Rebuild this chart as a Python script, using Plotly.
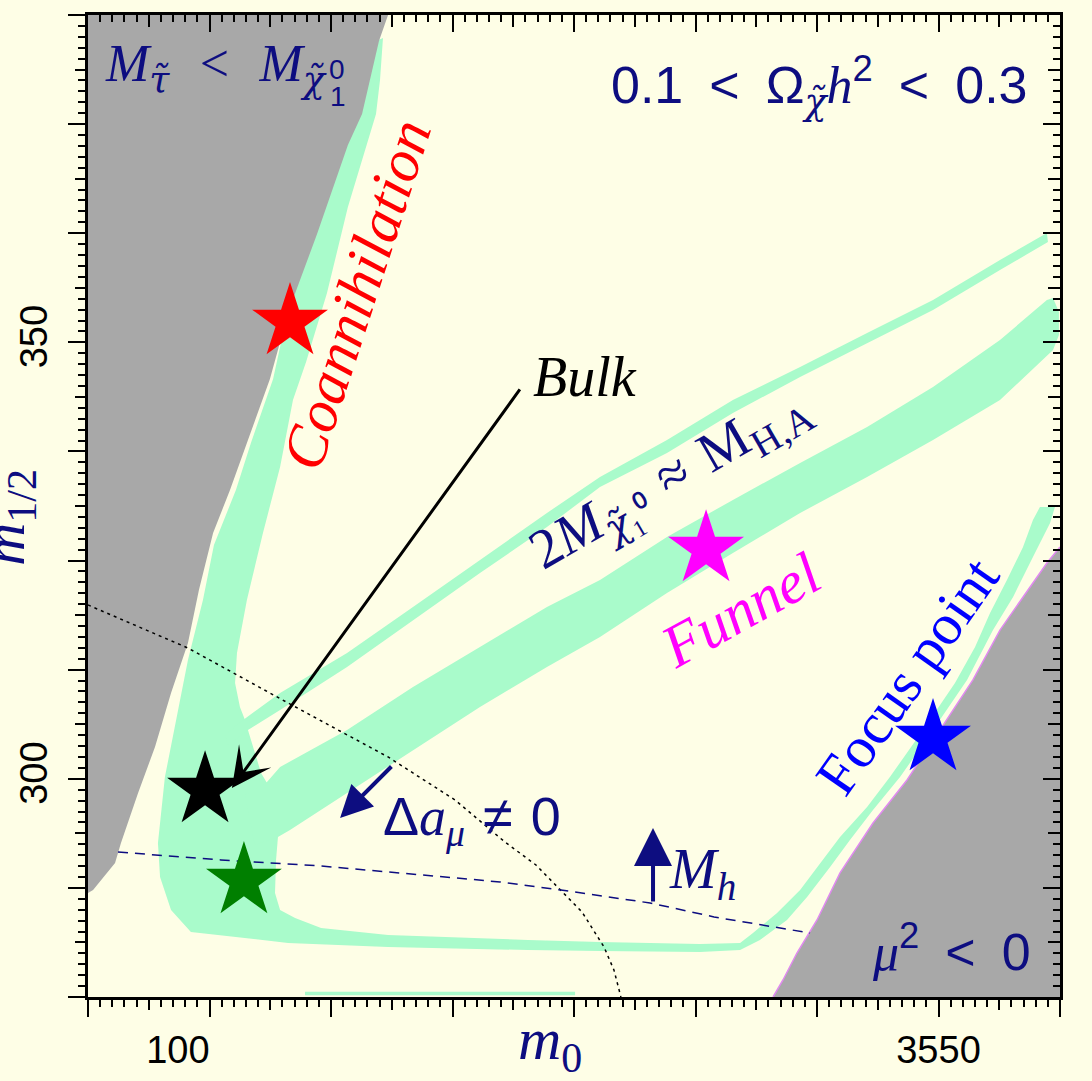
import plotly.graph_objects as go

CREAM = "#FEFEE6"
MINT = "#A9FBCB"
GRAY = "#A8A8A8"
NAVY = "#0D0D80"
SERIF = "Liberation Serif"
SANS = "Liberation Sans"
NB = "\u00a0"
SP = "\u2004"
EN = "\u2002"

# ---------------- axis ticks ----------------
XMAJ = [-475, 100, 675, 1250, 1825, 2400, 2975, 3550, 4125]
XLAB = ["", "100" + NB * 6, "", "", "", "", "", "3550", ""]
XMED = [-187.5, 387.5, 962.5, 1537.5, 2112.5, 2687.5, 3262.5, 3837.5]
YMAJ = [275, 287.5, 300, 312.5, 325, 337.5, 350, 362.5, 375, 387.5]
YLAB = ["", "", "300", "", "", "", "350", "", "", ""]
YMED = [281.25, 293.75, 306.25, 318.75, 331.25, 343.75, 356.25, 368.75, 381.25]
XR = [-475, 4125]
YR = [275, 387.5]

# ---------------- regions ----------------
# main relic-density band: coannihilation + bulk + low strip + focus point
band_x = [921, 907, 888, 822, 755, 656, 557, 495, 434, 353, 277, 230, 221, 244, 268, 282, 315, 344, 372,
          424, 415, 410, 434, 505, 628, 945, 1607, 1948, 2421, 2611, 2672, 2786, 2895, 2989, 3084, 3212,
          3320, 3477, 3628, 3723, 3794, 3874, 3950, 3997, 4030, 4101, 4078, 3997, 3903, 3808, 3685, 3524,
          3368, 3240, 3131, 3037, 2928, 2833, 2705, 2611, 2421, 1948, 1607, 945, 472, 12, -82, -134, -144,
          -111, -63, -2, 69, 121, 225, 296, 401, 472, 599, 746, 888]
band_y = [384.87, 380.05, 376.16, 370.89, 365.50, 355.65, 347.75, 343.39, 335.72, 328.16, 320.48, 314.41,
          310.97, 308.22, 306.73, 305.59, 302.95, 300.66, 299.52, 293.33, 290.70, 286.91, 284.97, 284.05,
          282.91, 282.10, 281.53, 281.30, 281.07, 281.19, 282.33, 284.62, 287.26, 290.35, 293.33, 296.77,
          300.20, 305.59, 310.97, 315.10, 318.99, 322.77, 326.55, 329.65, 331.14, 331.14, 329.30, 325.41,
          320.83, 317.04, 311.32, 305.59, 300.20, 296.42, 292.99, 289.89, 286.46, 283.82, 281.53, 280.38,
          280.16, 280.27, 280.38, 280.73, 281.19, 282.45, 284.97, 288.75, 292.64, 300.20, 305.93, 313.61,
          320.48, 326.78, 333.08, 338.47, 345.80, 353.70, 362.41, 372.61, 384.52]

# thin funnel branch (2M ~ M_HA)
thin_x = [173, 259, 434, 751, 1063, 1380, 1697, 1948, 2265, 2577, 2895, 3212, 3524, 3841, 4063,
          4068, 3841, 3524, 3212, 2895, 2577, 2265, 1948, 1697, 1380, 1063, 751, 434, 282, 188]
thin_y = [305.02, 306.73, 309.83, 314.41, 319.68, 325.06, 330.45, 334.57, 338.81, 343.39, 347.17, 351.07,
          354.85, 359.43, 362.53, 361.49, 358.29, 353.70, 349.92, 346.03, 341.90, 337.32, 333.43, 328.84,
          323.57, 318.19, 312.81, 307.88, 305.59, 303.87]

# thick funnel branch
thick_x = [268, 372, 434, 751, 1063, 1380, 1697, 1948, 2265, 2577, 2895, 3212, 3524, 3841, 4063, 4092,
           4120, 4120, 4092, 3841, 3524, 3212, 2895, 2577, 2265, 1948, 1697, 1380, 1063, 751, 481, 424, 315]
thick_y = [298.14, 299.63, 301.35, 305.59, 310.51, 315.10, 319.68, 322.77, 327.70, 331.94, 336.18, 340.30,
           344.88, 350.27, 354.85, 355.08, 353.48, 350.84, 349.12, 343.39, 338.81, 334.57, 330.45, 325.87,
           321.28, 316.24, 312.81, 308.22, 303.30, 298.37, 294.13, 293.33, 292.41]

# excluded: stau LSP (top left)
stau_x = [-475, 945, 902, 822, 755, 609, 476, 386, 277, 197, 117, 50, -2, -82, -158, -238, -319, -347, -451, -475]
stau_y = [387.5, 387.5, 384.52, 376.16, 372.61, 362.41, 353.70, 345.80, 338.47, 333.08, 328.16, 321.63,
          315.56, 309.83, 303.64, 298.37, 292.64, 290.35, 287.26, 286.92]

# excluded: mu^2 < 0 (bottom right)
mu_x = [2767, 2814, 2880, 2975, 3084, 3240, 3401, 3557, 3713, 3841, 3950, 4063, 4125, 4125]
mu_y = [275.0, 276.95, 280.04, 283.82, 289.21, 294.93, 299.86, 305.59, 311.32, 317.04, 320.83, 324.72,
        326.55, 275.0]

# thin strip near the lower axis
strip_x = [552, 1830, 1830, 552]
strip_y = [275.6, 275.6, 275.2, 275.2]

# g-2 boundary (dotted) and Higgs-mass boundary (dashed)
amu_x = [-475, -2, 472, 945, 1262, 1498, 1645, 1763, 1863, 1967, 2014, 2047]
amu_y = [319.91, 314.98, 308.68, 302.50, 297.57, 292.76, 290.12, 287.26, 284.74, 280.73, 278.09, 275.0]
mh_x = [-333, 154, 628, 1101, 1475, 1763, 2185, 2488, 2942]
mh_y = [291.61, 290.70, 290.01, 288.98, 288.18, 287.26, 285.77, 284.17, 282.33]

# benchmark stars
star_x = [481, 79, 263, 2450, 3524]
star_y = [352.33, 298.71, 288.29, 326.32, 304.67]
star_c = ["#FF0000", "#000000", "#007F00", "#FF00FF", "#0000FF"]

# arrows: (tip_x, tip_y, tail_x, tail_y)
bulk_arrow = [206, 298.94, 1574, 344.77]
amu_arrow = [718, 295.51, 968, 301.58]
mh_arrow = [2199, 294.36, 2199, 285.77]

fig = go.Figure()


def poly(xs, ys, color):
    fig.add_trace(go.Scatter(x=xs, y=ys, mode="lines", fill="toself", fillcolor=color,
                             line=dict(width=0, color=color), hoverinfo="skip", showlegend=False))


poly(band_x, band_y, MINT)
poly(thin_x, thin_y, MINT)
poly(thick_x, thick_y, MINT)
poly(strip_x, strip_y, MINT)
poly(stau_x, stau_y, GRAY)
poly(mu_x, mu_y, GRAY)
fig.add_trace(go.Scatter(x=mu_x[:13], y=mu_y[:13], mode="lines", line=dict(color="#E08AF0", width=1.5),
                         hoverinfo="skip", showlegend=False))
fig.add_trace(go.Scatter(x=amu_x, y=amu_y, mode="lines", line=dict(color="black", width=1.5, dash="3px,4px"),
                         hoverinfo="skip", showlegend=False))
fig.add_trace(go.Scatter(x=mh_x, y=mh_y, mode="lines", line=dict(color=NAVY, width=1.5, dash="10px,7px"),
                         hoverinfo="skip", showlegend=False))
fig.add_trace(go.Scatter(x=star_x, y=star_y, mode="markers",
                         marker=dict(symbol="star", size=57, color=star_c, line=dict(width=0)),
                         hoverinfo="skip", showlegend=False))

# dummy traces for the overlay tick axes
for k in (2, 3, 4):
    fig.add_trace(go.Scatter(x=[None], y=[None], xaxis="x%d" % k, yaxis="y%d" % k,
                             hoverinfo="skip", showlegend=False))


def arrow(a, color, width, size, head):
    fig.add_annotation(x=a[0], y=a[1], ax=a[2], ay=a[3], xref="x", yref="y", axref="x", ayref="y",
                       text="", showarrow=True, arrowhead=head, arrowsize=size, arrowwidth=width,
                       arrowcolor=color)


arrow(bulk_arrow, "black", 3, 2.2, 3)
arrow(amu_arrow, NAVY, 4, 1.6, 2)
arrow(mh_arrow, NAVY, 4, 1.9, 2)


def label(x, y, text, size, color, family=SERIF, angle=0, xanchor="center", xref="x", yref="y"):
    fig.add_annotation(x=x, y=y, xref=xref, yref=yref, text=text, showarrow=False, textangle=angle,
                       xanchor=xanchor, yanchor="middle", font=dict(family=family, size=size, color=color))


SER_I = '<span style="font-family:Liberation Serif"><i>%s</i></span>'
DJ_I = '<span style="font-family:DejaVu Serif"><i>%s</i></span>'
TAU = DJ_I % "τ̃"
CHI = DJ_I % "χ̃"

label(-404, 381.43, "<i>M</i><sub>" + TAU + "</sub>" + SP + NB + "&lt;" + NB + SP + "<i>M</i><sub>" + CHI + "</sub>",
      52, NAVY, xanchor="left")
label(703, 381.20, "0", 28, NAVY, family=SANS)
label(707, 378.11, "1", 28, NAVY, family=SANS)
label(3983, 379.48, "0.1" + EN + "&lt;" + EN + "Ω<sub>" + CHI + "</sub>" + SER_I % "h" + "<sup>2</sup>" + EN
      + "&lt;" + EN + "0.3", 52, NAVY, family=SANS, xanchor="right")
label(798, 355.5, "<i>Coannihilation</i>", 60, "#FF0000", angle=-72)
label(1877, 346.03, "<i>Bulk</i>", 56, "black")
label(2280, 334.2, "2<i>M</i><sub>" + CHI + "₁⁰</sub>" + SP + "≈" + SP + "M<sub>H,A</sub>", 56, NAVY, angle=-30)
label(2615, 319.34, "<i>Funnel</i>", 60, "#FF00FF", angle=-29)
label(3401, 311.77, "Focus point", 58, "#0000FF", angle=-55)
label(1340, 295.3, "Δ" + SER_I % "a" + "<sub>" + SER_I % "μ" + "</sub>" + SP + "≠" + SP + "0", 54, NAVY,
      family=SANS)
label(2265, 289.2, "<i>M</i><sub><i>h</i></sub>", 56, NAVY, xanchor="left")
label(3995, 280.61, SER_I % "μ" + "<sup>2</sup>" + EN + "&lt;" + EN + "0", 52, NAVY, family=SANS, xanchor="right")
# axis titles
label(0.475, -0.047, "<i>m</i><sub>0</sub>", 60, NAVY, xref="paper", yref="paper")
label(-0.082, 0.488, "<i>m</i><sub>1/2</sub>", 60, NAVY, angle=-90, xref="paper", yref="paper")

common = dict(showgrid=False, zeroline=False, fixedrange=True, automargin=False)
minor_out_x = dict(tick0=-475, dtick=57.5, ticks="outside", ticklen=7, tickwidth=1.5, tickcolor="black",
                   showgrid=False)
minor_in_x = dict(minor_out_x, ticks="inside")
minor_out_y = dict(tick0=275, dtick=1.25, ticks="outside", ticklen=7, tickwidth=1.5, tickcolor="black",
                   showgrid=False)
minor_in_y = dict(minor_out_y, ticks="inside")

fig.update_layout(
    width=1092, height=1081,
    margin=dict(l=88, r=32, t=15, b=84, pad=0, autoexpand=False),
    paper_bgcolor=CREAM, plot_bgcolor=CREAM,
    showlegend=False,
    xaxis=dict(range=XR, tickmode="array", tickvals=XMAJ, ticktext=XLAB, ticks="outside", ticklen=17,
               tickwidth=2, tickcolor="black", minor=minor_out_x, showline=True, linewidth=3,
               linecolor="black", tickfont=dict(family=SANS, size=38, color="black"),
               ticklabelstandoff=0, tickangle=0, **common),
    yaxis=dict(range=YR, tickmode="array", tickvals=YMAJ, ticktext=YLAB, ticks="outside", ticklen=17,
               tickwidth=2, tickcolor="black", minor=minor_out_y, showline=True, linewidth=3,
               linecolor="black", tickfont=dict(family=SANS, size=38, color="black"),
               ticklabelstandoff=6, tickangle=-90, **common),
    xaxis2=dict(range=XR, overlaying="x", anchor="y2", side="bottom", tickmode="array", tickvals=XMED,
                ticks="outside", ticklen=12, tickwidth=1.5, tickcolor="black", showticklabels=False,
                showline=False, **common),
    yaxis2=dict(range=YR, overlaying="y", anchor="x2", side="left", tickmode="array", tickvals=YMED,
                ticks="outside", ticklen=12, tickwidth=1.5, tickcolor="black", showticklabels=False,
                showline=False, **common),
    xaxis3=dict(range=XR, overlaying="x", anchor="y3", side="top", tickmode="array", tickvals=XMAJ,
                ticks="inside", ticklen=17, tickwidth=2, tickcolor="black", minor=minor_in_x,
                showticklabels=False, showline=True, linewidth=3, linecolor="black", **common),
    yaxis3=dict(range=YR, overlaying="y", anchor="x3", side="right", tickmode="array", tickvals=YMAJ,
                ticks="inside", ticklen=17, tickwidth=2, tickcolor="black", minor=minor_in_y,
                showticklabels=False, showline=True, linewidth=3, linecolor="black", **common),
    xaxis4=dict(range=XR, overlaying="x", anchor="y4", side="top", tickmode="array", tickvals=XMED,
                ticks="inside", ticklen=12, tickwidth=1.5, tickcolor="black", showticklabels=False,
                showline=False, **common),
    yaxis4=dict(range=YR, overlaying="y", anchor="x4", side="right", tickmode="array", tickvals=YMED,
                ticks="inside", ticklen=12, tickwidth=1.5, tickcolor="black", showticklabels=False,
                showline=False, **common),
)

fig.write_html("out.html", config={"displayModeBar": False},
               post_script="document.body.style.margin='0';document.body.style.overflow='hidden';")
